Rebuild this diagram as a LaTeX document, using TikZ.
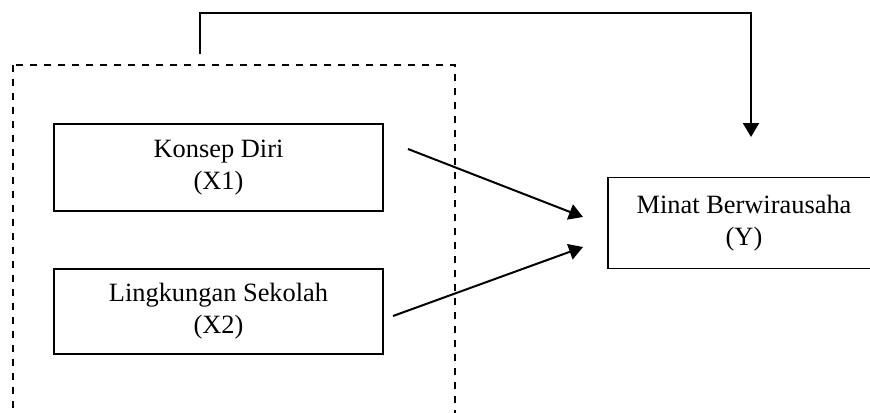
\documentclass[tikz,border=0pt]{standalone}
\usepackage{fontspec}
\setmainfont{Liberation Serif}
\usetikzlibrary{arrows.meta}

\tikzset{
	varbox/.style={draw, line width=0.8pt, align=center, inner sep=0pt,
		font=\fontsize{13.2}{16}\selectfont},
	arr/.style={line width=1pt, -{Triangle[length=7pt,width=8pt]}},
	groupline/.style={draw, dash pattern=on 3.5pt off 3.5pt, line width=0.8pt}
}

\begin{document}
\begin{tikzpicture}[x=0.5pt,y=-0.5pt]
				\useasboundingbox (0,0) rectangle (870,412);
				\clip (0,0) rectangle (870,412);

				\draw [groupline] (13,65) rectangle (455,440);

				\node [varbox, minimum width=164.5pt, minimum height=43.5pt] (X1) at (218.5,167.5) {Konsep Diri\\(X1)};
				\node [varbox, minimum width=164.5pt, minimum height=42.5pt] (X2) at (218.5,311.5) {Lingkungan Sekolah\\(X2)};
				\node [varbox, minimum width=136pt, minimum height=45.5pt] (Y) at (744,223) {Minat Berwirausaha\\(Y)};

				\coordinate (G) at (200,54);
				\coordinate (T) at (200,13);
				\coordinate (Yt) at (751,137);
				\draw [arr] (G)--(T) -| (Yt);

				\coordinate (X1o) at (408,149);
				\coordinate (Y1) at (583,217);
				\draw [arr] (X1o)--(Y1);

				\coordinate (X2o) at (393,316);
				\coordinate (Y2) at (583,247);
				\draw [arr] (X2o)--(Y2);

			\end{tikzpicture}
\end{document}
